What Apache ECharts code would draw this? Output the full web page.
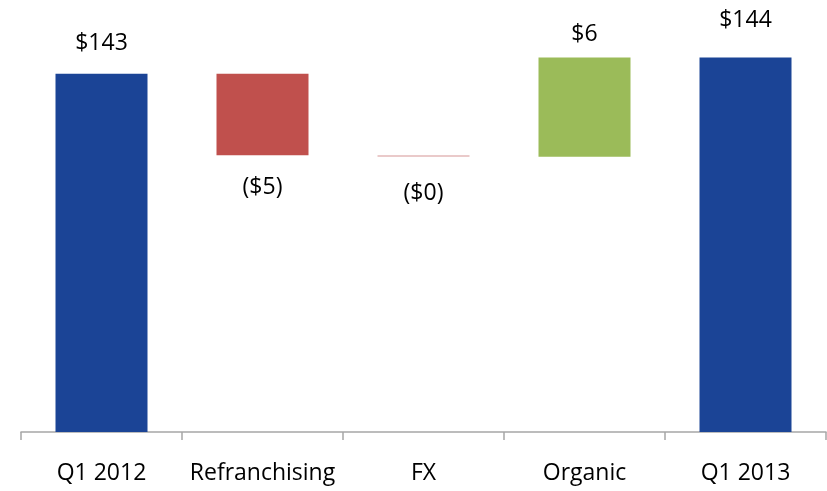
<!DOCTYPE html>
<html>
<head>
<meta charset="utf-8">
<script src="https://cdn.jsdelivr.net/npm/echarts@6/dist/echarts.min.js"></script>
<style>
  html, body { margin: 0; padding: 0; background: #ffffff; }
  #chart { width: 827px; height: 491px; }
</style>
</head>
<body>
<div id="chart"></div>
<script>
// Revenue bridge, $ millions
var categories = ['Q1 2012', 'Refranchising', 'FX', 'Organic', 'Q1 2013'];
var startTotal = 143;
var changes = [-5, -0.1, 6.1];
var endTotal = 144;

var COLOR_TOTAL = '#1b4496';
var COLOR_DOWN = '#c0504d';
var COLOR_UP = '#9bbb59';

function money(v) {
  var n = Math.round(Math.abs(v));
  return v < 0 ? '($' + n + ')' : '$' + n;
}

// build floating segments: transparent base + visible delta
var baseVals = [0];
var deltaVals = [startTotal];
var signed = [startTotal];
var running = startTotal;
changes.forEach(function (c) {
  if (c < 0) { baseVals.push(running + c); deltaVals.push(-c); }
  else { baseVals.push(running); deltaVals.push(c); }
  signed.push(c);
  running += c;
});
baseVals.push(0);
deltaVals.push(endTotal);
signed.push(endTotal);

// label gap above/below each bar
var labelGap = [19, 21, 25, 12, 26];

var deltaData = deltaVals.map(function (v, i) {
  var isTotal = (i === 0 || i === deltaVals.length - 1);
  var s = signed[i];
  var color = isTotal ? COLOR_TOTAL : (s < 0 ? COLOR_DOWN : COLOR_UP);
  if (!isTotal && Math.abs(s) < 0.5) color = '#e3b9b8';
  return {
    value: v,
    itemStyle: { color: color },
    label: {
      position: (!isTotal && s < 0) ? 'bottom' : 'top',
      distance: labelGap[i]
    }
  };
});

var chart = echarts.init(document.getElementById('chart'));
chart.setOption({
  animation: false,
  grid: { left: 21, right: 1, top: 25, bottom: 59 },
  xAxis: {
    type: 'category',
    data: categories,
    axisLine: { lineStyle: { color: '#a6a6a6', width: 1.5 } },
    axisTick: { show: true, interval: 0, length: 8, alignWithLabel: false, lineStyle: { color: '#a6a6a6', width: 1.5 } },
    axisLabel: { interval: 0, color: '#000000', fontSize: 23, fontFamily: 'Open Sans', margin: 30 }
  },
  yAxis: {
    type: 'value',
    min: 121,
    max: 146,
    show: false,
    splitLine: { show: false }
  },
  series: [
    {
      type: 'bar',
      stack: 'bridge',
      data: baseVals,
      barWidth: 92,
      itemStyle: { color: 'transparent' },
      silent: true
    },
    {
      type: 'bar',
      stack: 'bridge',
      data: deltaData,
      barWidth: 92,
      label: {
        show: true,
        color: '#000000',
        fontSize: 23,
        fontFamily: 'Open Sans',
        formatter: function (p) { return money(signed[p.dataIndex]); }
      }
    }
  ]
});
</script>
</body>
</html>
